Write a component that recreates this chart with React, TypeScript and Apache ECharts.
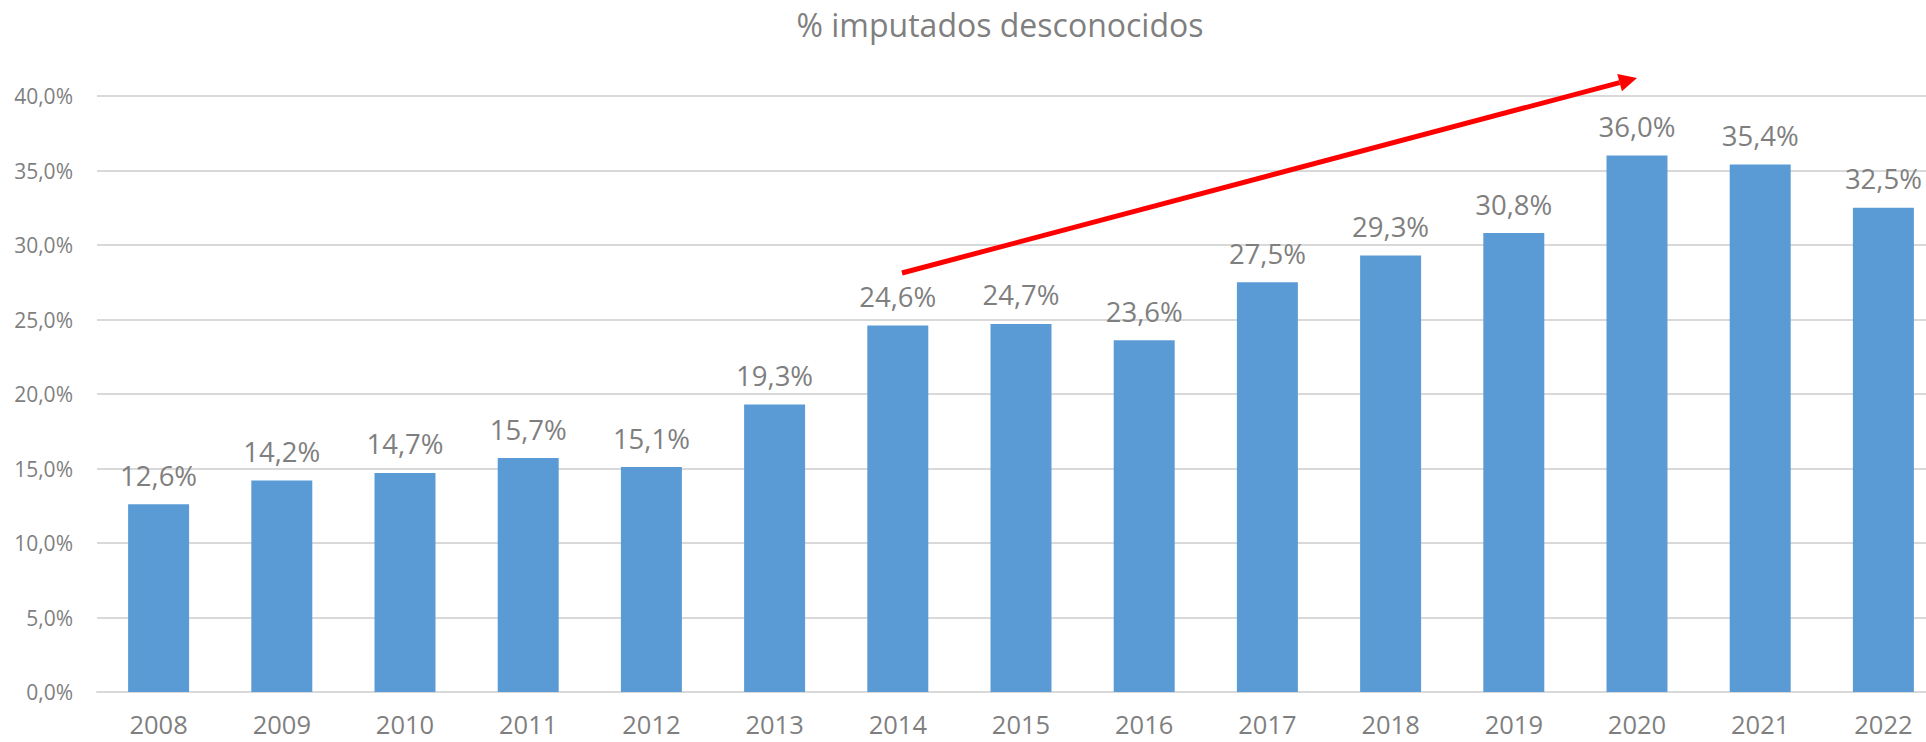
import React, { useEffect, useRef } from "react";
import * as echarts from "echarts";

const title = "% imputados desconocidos";
const years = ["2008", "2009", "2010", "2011", "2012", "2013", "2014", "2015", "2016", "2017", "2018", "2019", "2020", "2021", "2022"];
const values = [12.6, 14.2, 14.7, 15.7, 15.1, 19.3, 24.6, 24.7, 23.6, 27.5, 29.3, 30.8, 36.0, 35.4, 32.5];
const yTicks = { min: 0, max: 40, interval: 5 };

const fmt = (v: number) => v.toFixed(1).replace(".", ",") + "%";

const FONT = "Open Sans";
const GRAY = "#7f7f7f";

export default function App() {
  const ref = useRef<HTMLDivElement>(null);
  useEffect(() => {
    const chart = echarts.init(ref.current!, null, { renderer: "svg" });
    // arrow geometry (annotation)
    const x1 = 902, y1 = 273, tx = 1637, ty = 78;
    const dx = tx - x1, dy = ty - y1;
    const len = Math.sqrt(dx * dx + dy * dy);
    const ux = dx / len, uy = dy / len;
    const hl = 18, hw = 9;
    const bx = tx - hl * ux, by = ty - hl * uy;
    const nx = -uy, ny = ux;
    chart.setOption({
      animation: false,
      backgroundColor: "#fff",
      title: {
        text: title,
        left: 995,
        top: 3,
        textAlign: "center",
        textStyle: { fontFamily: FONT, fontSize: 32, fontWeight: "normal", color: GRAY },
      },
      grid: { left: 97, top: 96, bottom: 50, width: 1848, containLabel: false },
      xAxis: {
        type: "category",
        data: years,
        axisLine: { show: true, lineStyle: { color: "#d9d9d9", width: 2 } },
        axisTick: { show: false },
        axisLabel: { color: GRAY, fontFamily: FONT, fontSize: 25.5, margin: 19 },
      },
      yAxis: {
        type: "value",
        min: yTicks.min,
        max: yTicks.max,
        interval: yTicks.interval,
        axisLine: { show: false },
        axisTick: { show: false },
        splitLine: { lineStyle: { color: "#d9d9d9", width: 2 } },
        axisLabel: { color: GRAY, fontFamily: FONT, fontSize: 21, margin: 24, formatter: (v: number) => fmt(v) },
      },
      series: [
        {
          type: "bar",
          data: values,
          barWidth: "49.5%",
          itemStyle: { color: "#5b9bd5" },
          label: {
            show: true,
            position: "top",
            distance: 15,
            color: GRAY,
            fontFamily: FONT,
            fontSize: 27.5,
            formatter: (p: any) => fmt(p.value),
          },
        },
      ],
      graphic: [
        {
          type: "line",
          shape: { x1, y1, x2: bx, y2: by },
          style: { stroke: "#ff0000", lineWidth: 5 },
          z: 100,
        },
        {
          type: "polygon",
          shape: { points: [[tx, ty], [bx + hw * nx, by + hw * ny], [bx - hw * nx, by - hw * ny]] },
          style: { fill: "#ff0000" },
          z: 100,
        },
      ],
    });
    return () => chart.dispose();
  }, []);
  return (
    <div style={{ position: "fixed", left: 0, top: 0, width: 1926, height: 742, overflow: "hidden" }}>
      <div ref={ref} style={{ width: 1950, height: 742 }} />
    </div>
  );
}
